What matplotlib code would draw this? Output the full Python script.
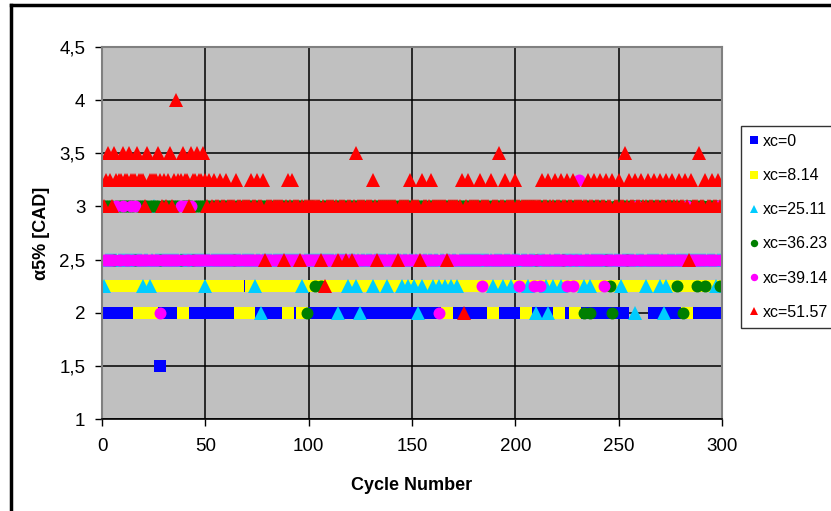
import matplotlib
matplotlib.use("Agg")
import matplotlib.pyplot as plt
from matplotlib.lines import Line2D
from matplotlib.ticker import FuncFormatter
import numpy as np

plt.rcParams['font.family'] = ['Liberation Sans', 'DejaVu Sans']

# cycle numbers on the x axis
cycles = np.arange(1, 301)

# each series: the level it sits on most of the time, plus the cycles read off
# the picture where it sits on another level
blue_base = 2.0
blue_at_150 = [28]
blue_at_225 = [70, 139] + list(range(253, 267))

yellow_base = 2.25
yellow_at_200 = [18, 19, 24, 39, 67, 68, 69, 70, 71, 90, 97, 167, 189, 205, 221, 229, 283]

cyan_base = 2.5
cyan_at_200 = [77, 114, 125, 153, 210, 216, 258, 272]
cyan_at_225 = [1, 20, 23, 50, 74, 97, 119, 123, 131, 138, 145, 148, 151, 155, 160,
               163, 166, 169, 172, 189, 194, 198, 206, 215, 218, 222, 233, 236, 251,
               263, 270, 273, 297]
cyan_at_300 = [25]

green_base = 3.0
green_at_200 = [99, 233, 236, 247, 281]
green_at_225 = [103, 106, 246, 278, 288, 292, 299]
green_at_250 = [6, 16, 28, 38, 44, 64, 210, 223, 244, 254]

magenta_base = 2.5
magenta_at_200 = [28, 163]
magenta_at_225 = [184, 202, 209, 212, 225, 228, 243]
magenta_at_300 = [7, 10, 14, 16, 38, 40, 43, 259, 283, 298, 300]
magenta_at_325 = [231]

red_base = 3.0
red_at_200 = [175]
red_at_225 = [108]
red_at_250 = [79, 88, 96, 106, 114, 118, 121, 133, 143, 154, 167, 284]
red_at_325 = [2, 4, 7, 8, 9, 11, 12, 14, 15, 16, 18, 19, 20, 23, 24, 25, 26, 28, 30,
              32, 35, 37, 38, 40, 41, 44, 45, 47, 48, 50, 52, 54, 57, 60, 65, 72, 75,
              78, 90, 92, 131, 149, 155, 159, 174, 177, 183, 188, 195, 200, 213, 216,
              219, 222, 225, 228, 235, 238, 241, 244, 247, 250, 255, 258, 261, 264,
              267, 270, 273, 276, 279, 282, 285, 292, 295, 298]
red_at_350 = [3, 6, 10, 13, 17, 22, 27, 33, 39, 43, 46, 49, 123, 192, 253, 289]
red_at_400 = [36]

labels = ["xc=0", "xc=8.14", "xc=25.11", "xc=36.23", "xc=39.14", "xc=51.57"]


def build(base, moves):
    values = np.full(len(cycles), base)
    for level, which in moves:
        values[np.array(which) - 1] = level
    return values


series = [
    build(blue_base, [(1.5, blue_at_150), (2.25, blue_at_225)]),
    build(yellow_base, [(2.0, yellow_at_200)]),
    build(cyan_base, [(2.0, cyan_at_200), (2.25, cyan_at_225), (3.0, cyan_at_300)]),
    build(green_base, [(2.0, green_at_200), (2.25, green_at_225), (2.5, green_at_250)]),
    build(magenta_base, [(2.0, magenta_at_200), (2.25, magenta_at_225),
                         (3.0, magenta_at_300), (3.25, magenta_at_325)]),
    build(red_base, [(2.0, red_at_200), (2.25, red_at_225), (2.5, red_at_250),
                     (3.25, red_at_325), (3.5, red_at_350), (4.0, red_at_400)]),
]
colors = ["#0000ff", "#ffff00", "#00ccff", "#007f00", "#ff00ff", "#ff0000"]
markers = ["s", "s", "^", "o", "o", "^"]
sizes = [8.4, 8.4, 10, 8.6, 8.6, 10]

fig = plt.figure(figsize=(8.31, 5.11), dpi=100)
ax = fig.add_axes([102 / 831, 92 / 511, 620 / 831, 372 / 511])
ax.set_facecolor("#c0c0c0")

for y, c, m, s, lab in zip(series, colors, markers, sizes, labels):
    ax.plot(cycles, y, linestyle="none", marker=m, markersize=s, color=c,
            markeredgewidth=0, label=lab)

ax.set_xlim(0, 300)
ax.set_ylim(1, 4.5)
ax.set_xticks(np.arange(0, 301, 50))
ax.set_yticks(np.arange(1, 4.51, 0.5))
ax.yaxis.set_major_formatter(FuncFormatter(lambda v, p: f"{v:g}".replace(".", ",")))
ax.grid(True, color="black", linewidth=1.1)
ax.set_axisbelow(True)
ax.tick_params(labelsize=13.5, length=5, width=1, color="black")
ax.tick_params(axis="y", pad=7)
ax.tick_params(axis="x", pad=9)

for side in ["top", "right", "left"]:
    ax.spines[side].set_color("#808080")
    ax.spines[side].set_linewidth(1.5)
ax.spines["bottom"].set_color("black")
ax.spines["bottom"].set_linewidth(1.2)

ax.set_xlabel("Cycle Number", fontsize=13, fontweight="bold")
ax.xaxis.set_label_coords(0.5, -0.156)
ax.set_ylabel("\u03b15% [CAD]", fontsize=13, fontweight="bold")
ax.yaxis.set_label_coords(-0.084, 0.5)

leg = ax.legend(loc="upper left", bbox_to_anchor=(741 / 831, 1 - 126 / 511),
                bbox_transform=fig.transFigure, fontsize=11.5, frameon=True,
                fancybox=False, edgecolor="black", markerscale=0.62,
                handlelength=0.6, handletextpad=0.25, labelspacing=1.2,
                borderpad=0.5, borderaxespad=0)
leg.get_frame().set_linewidth(1)

# outer chart frame, cut off at right and bottom
fig.add_artist(Line2D([11 / 831, 11 / 831], [0, 1 - 5 / 511], transform=fig.transFigure,
                      color="black", linewidth=2.5))
fig.add_artist(Line2D([11 / 831, 1], [1 - 5 / 511, 1 - 5 / 511], transform=fig.transFigure,
                      color="black", linewidth=2.5))

fig.savefig("out.png", dpi=100)
